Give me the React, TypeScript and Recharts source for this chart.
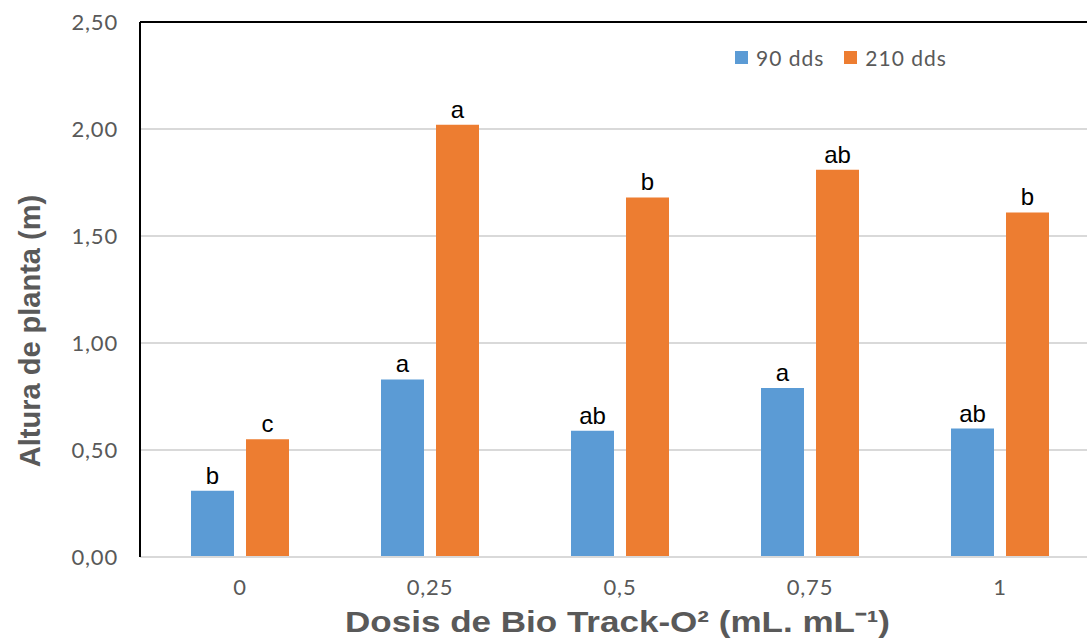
import React from "react";
import {
  BarChart,
  Bar,
  XAxis,
  YAxis,
  CartesianGrid,
  Legend,
  LabelList,
  ReferenceLine,
} from "recharts";

const doses = ["0", "0,25", "0,5", "0,75", "1"];
const seriesNames = ["90 dds", "210 dds"];
const height90 = [0.31, 0.83, 0.59, 0.79, 0.6];
const height210 = [0.55, 2.02, 1.68, 1.81, 1.61];
const letters90 = ["b", "a", "ab", "a", "ab"];
const letters210 = ["c", "a", "b", "ab", "b"];
const yTicks = [0, 0.5, 1, 1.5, 2, 2.5];

const BLUE = "#5b9bd5";
const ORANGE = "#ed7d31";
const GREY = "#595959";

const data = doses.map((d, i) => ({
  dose: d,
  d90: height90[i],
  d210: height210[i],
  l90: letters90[i],
  l210: letters210[i],
}));

function LegendBox({ payload }: any) {
  const items = [...(payload || [])].sort(
    (a: any, b: any) => seriesNames.indexOf(a.value) - seriesNames.indexOf(b.value)
  );
  return (
    <div style={{ display: "flex", alignItems: "center", fontFamily: "Lato", fontSize: 21, color: GREY }}>
      {items.map((p: any) => (
        <div key={p.value} style={{ display: "flex", alignItems: "center", marginRight: 20 }}>
          <span style={{ width: 13, height: 13, background: p.color, display: "inline-block", marginRight: 8 }} />
          <span style={{ letterSpacing: 1 }}>{p.value}</span>
        </div>
      ))}
    </div>
  );
}

export default function App() {
  return (
    <div
      style={{
        position: "fixed",
        left: 0,
        top: 0,
        width: 1087,
        height: 639,
        overflow: "hidden",
        background: "#fff",
      }}
    >
      <BarChart
        width={1120}
        height={639}
        data={data}
        margin={{ top: 22, right: 25, left: 0, bottom: 0 }}
        barSize={43}
        barGap={12}
      >
        <CartesianGrid vertical={false} stroke="#d9d9d9" strokeWidth={2} />
        <XAxis
          dataKey="dose"
          height={82}
          padding={{ left: 5, right: 0 }}
          axisLine={{ stroke: "#d9d9d9", strokeWidth: 2 }}
          tickLine={false}
          tickMargin={16}
          tick={{ fill: GREY, fontSize: 22, fontFamily: "Lato", letterSpacing: 0.8 }}
          label={{
            content: ({ viewBox }: any) => (
              <text
                x={viewBox.x + viewBox.width / 2}
                y={632}
                textAnchor="middle"
                fontFamily="Liberation Sans"
                fontWeight="bold"
                fontSize={30}
                fill={GREY}
                textLength={545}
                lengthAdjust="spacingAndGlyphs"
              >
                Dosis de Bio Track-O² (mL. mL⁻¹)
              </text>
            ),
          }}
        />
        <YAxis
          width={140}
          domain={[0, 2.5]}
          ticks={yTicks}
          interval={0}
          tickFormatter={(v: number) => v.toFixed(2).replace(".", ",")}
          axisLine={{ stroke: "#000", strokeWidth: 2 }}
          tickLine={false}
          tickMargin={16}
          tick={{ fill: GREY, fontSize: 22, fontFamily: "Lato", letterSpacing: 0.8 }}
          label={{
            content: () => (
              <text
                transform="translate(30,331) rotate(-90)"
                textAnchor="middle"
                dominantBaseline="central"
                fontFamily="Liberation Sans"
                fontWeight="bold"
                fontSize={29}
                fill={GREY}
              >
                Altura de planta (m)
              </text>
            ),
          }}
        />
        <ReferenceLine y={2.5} stroke="#000" strokeWidth={2} />
        <Legend
          layout="horizontal"
          verticalAlign="middle"
          align="center"
          content={<LegendBox />}
          wrapperStyle={{ top: 45, left: 735, width: 320 }}
        />
        <Bar dataKey="d90" name="90 dds" fill={BLUE} isAnimationActive={false}>
          <LabelList
            dataKey="l90"
            position="top"
            offset={7}
            fill="#000"
            fontSize={24}
            fontFamily="Liberation Sans"
          />
        </Bar>
        <Bar dataKey="d210" name="210 dds" fill={ORANGE} isAnimationActive={false}>
          <LabelList
            dataKey="l210"
            position="top"
            offset={7}
            fill="#000"
            fontSize={24}
            fontFamily="Liberation Sans"
          />
        </Bar>
      </BarChart>
    </div>
  );
}
